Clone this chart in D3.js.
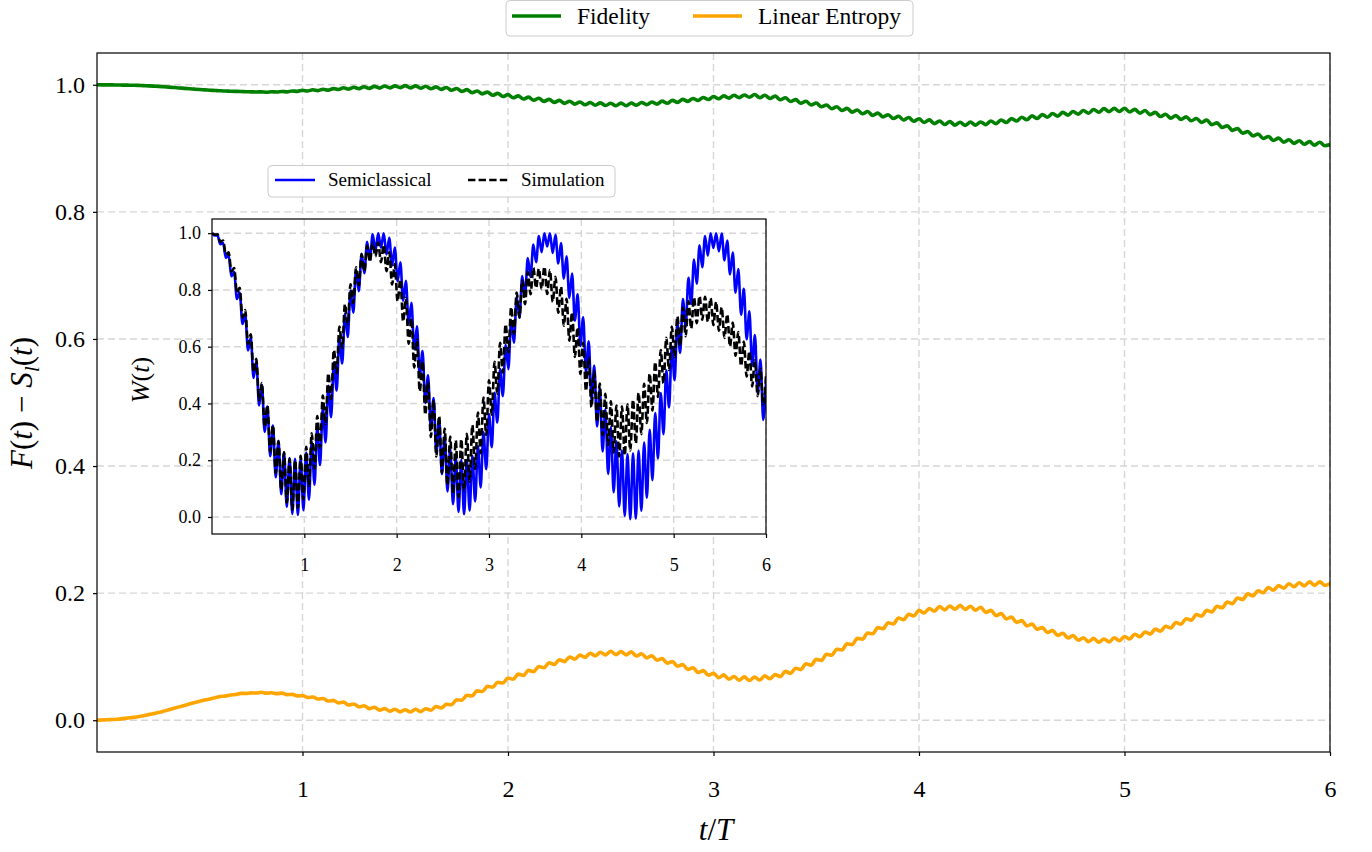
<!DOCTYPE html>
<html>
<head>
<meta charset="utf-8">
<script src="https://cdn.jsdelivr.net/npm/d3@7"></script>
<style>
  body { margin: 0; background: #fff; }
  text { font-family: "Liberation Serif", "DejaVu Serif", serif; fill: #000; }
</style>
</head>
<body>
<svg id="chart" width="1372" height="852"></svg>
<script>
// time step of the sampled curves (t/T units)
const STEP_MAIN = 0.025;
const STEP_INSET = 0.03;

// F(t), main panel, one value every STEP_MAIN
const fidelity = [
  1.0000, 0.9999, 0.9999, 0.9998, 0.9997, 0.9995, 0.9994, 0.9992, 0.9990, 0.9986, 0.9983, 0.9979,
  0.9975, 0.9969, 0.9963, 0.9956, 0.9950, 0.9944, 0.9938, 0.9931, 0.9925, 0.9920, 0.9915, 0.9910,
  0.9905, 0.9902, 0.9899, 0.9896, 0.9893, 0.9891, 0.9889, 0.9887, 0.9888, 0.9883, 0.9891, 0.9886,
  0.9895, 0.9889, 0.9903, 0.9896, 0.9913, 0.9901, 0.9921, 0.9908, 0.9930, 0.9915, 0.9940, 0.9925,
  0.9952, 0.9932, 0.9960, 0.9939, 0.9970, 0.9943, 0.9975, 0.9948, 0.9980, 0.9951, 0.9983, 0.9954,
  0.9987, 0.9951, 0.9982, 0.9946, 0.9977, 0.9938, 0.9967, 0.9928, 0.9958, 0.9913, 0.9941, 0.9896,
  0.9923, 0.9877, 0.9903, 0.9857, 0.9885, 0.9835, 0.9865, 0.9815, 0.9845, 0.9795, 0.9825, 0.9775,
  0.9805, 0.9756, 0.9788, 0.9739, 0.9770, 0.9723, 0.9755, 0.9708, 0.9740, 0.9695, 0.9730, 0.9685,
  0.9720, 0.9678, 0.9715, 0.9673, 0.9710, 0.9670, 0.9711, 0.9671, 0.9712, 0.9677, 0.9721, 0.9686,
  0.9730, 0.9696, 0.9743, 0.9709, 0.9755, 0.9723, 0.9770, 0.9738, 0.9785, 0.9753, 0.9800, 0.9768,
  0.9815, 0.9780, 0.9825, 0.9790, 0.9835, 0.9798, 0.9840, 0.9803, 0.9847, 0.9797, 0.9835, 0.9784,
  0.9822, 0.9764, 0.9795, 0.9737, 0.9767, 0.9709, 0.9740, 0.9682, 0.9712, 0.9653, 0.9682, 0.9623,
  0.9654, 0.9594, 0.9629, 0.9569, 0.9604, 0.9544, 0.9579, 0.9519, 0.9554, 0.9494, 0.9529, 0.9469,
  0.9504, 0.9446, 0.9484, 0.9426, 0.9465, 0.9406, 0.9448, 0.9389, 0.9430, 0.9375, 0.9420, 0.9365,
  0.9410, 0.9361, 0.9413, 0.9364, 0.9415, 0.9373, 0.9430, 0.9388, 0.9445, 0.9406, 0.9468, 0.9429,
  0.9490, 0.9450, 0.9510, 0.9470, 0.9530, 0.9489, 0.9548, 0.9506, 0.9565, 0.9523, 0.9580, 0.9538,
  0.9595, 0.9553, 0.9610, 0.9568, 0.9625, 0.9576, 0.9628, 0.9579, 0.9630, 0.9571, 0.9613, 0.9554,
  0.9595, 0.9530, 0.9565, 0.9500, 0.9535, 0.9475, 0.9515, 0.9455, 0.9495, 0.9433, 0.9470, 0.9408,
  0.9445, 0.9373, 0.9400, 0.9328, 0.9355, 0.9283, 0.9310, 0.9238, 0.9265, 0.9195, 0.9225, 0.9155,
  0.9185, 0.9123, 0.9160, 0.9098, 0.9135, 0.9078, 0.9120, 0.9063, 0.9105, 0.9050, 0.9095, 0.9040,
  0.9060
];

// S_l(t), main panel, one value every STEP_MAIN
const linearEntropy = [
  0.0000, 0.0004, 0.0008, 0.0011, 0.0015, 0.0025, 0.0035, 0.0045, 0.0055, 0.0071, 0.0088, 0.0104,
  0.0120, 0.0143, 0.0165, 0.0188, 0.0210, 0.0233, 0.0255, 0.0278, 0.0300, 0.0318, 0.0335, 0.0353,
  0.0373, 0.0380, 0.0398, 0.0405, 0.0423, 0.0421, 0.0431, 0.0428, 0.0440, 0.0426, 0.0433, 0.0419,
  0.0427, 0.0403, 0.0407, 0.0383, 0.0390, 0.0358, 0.0365, 0.0333, 0.0342, 0.0303, 0.0312, 0.0273,
  0.0285, 0.0240, 0.0255, 0.0210, 0.0227, 0.0182, 0.0205, 0.0159, 0.0183, 0.0142, 0.0173, 0.0132,
  0.0165, 0.0129, 0.0173, 0.0136, 0.0180, 0.0158, 0.0215, 0.0193, 0.0250, 0.0245, 0.0320, 0.0315,
  0.0392, 0.0383, 0.0462, 0.0453, 0.0532, 0.0521, 0.0597, 0.0586, 0.0665, 0.0645, 0.0725, 0.0705,
  0.0785, 0.0765, 0.0845, 0.0825, 0.0905, 0.0878, 0.0950, 0.0923, 0.0995, 0.0960, 0.1025, 0.0990,
  0.1055, 0.1013, 0.1070, 0.1028, 0.1085, 0.1033, 0.1080, 0.1028, 0.1075, 0.1010, 0.1045, 0.0980,
  0.1015, 0.0943, 0.0970, 0.0898, 0.0925, 0.0850, 0.0875, 0.0800, 0.0825, 0.0753, 0.0780, 0.0708,
  0.0738, 0.0670, 0.0713, 0.0645, 0.0688, 0.0630, 0.0683, 0.0625, 0.0678, 0.0632, 0.0698, 0.0652,
  0.0718, 0.0687, 0.0768, 0.0737, 0.0818, 0.0797, 0.0888, 0.0867, 0.0958, 0.0942, 0.1038, 0.1022,
  0.1118, 0.1105, 0.1203, 0.1190, 0.1288, 0.1275, 0.1373, 0.1360, 0.1458, 0.1440, 0.1533, 0.1515,
  0.1608, 0.1582, 0.1668, 0.1642, 0.1728, 0.1687, 0.1758, 0.1717, 0.1788, 0.1737, 0.1798, 0.1747,
  0.1808, 0.1745, 0.1793, 0.1730, 0.1778, 0.1697, 0.1728, 0.1647, 0.1678, 0.1595, 0.1623, 0.1540,
  0.1568, 0.1485, 0.1513, 0.1430, 0.1458, 0.1380, 0.1413, 0.1335, 0.1368, 0.1295, 0.1333, 0.1260,
  0.1298, 0.1237, 0.1288, 0.1227, 0.1278, 0.1232, 0.1298, 0.1252, 0.1318, 0.1280, 0.1353, 0.1315,
  0.1388, 0.1355, 0.1433, 0.1400, 0.1478, 0.1452, 0.1538, 0.1512, 0.1598, 0.1575, 0.1663, 0.1640,
  0.1728, 0.1705, 0.1793, 0.1770, 0.1858, 0.1835, 0.1923, 0.1900, 0.1988, 0.1957, 0.2038, 0.2007,
  0.2088, 0.2047, 0.2118, 0.2077, 0.2148, 0.2100, 0.2163, 0.2115, 0.2178, 0.2122, 0.2178, 0.2122,
  0.2150
];

// W(t), inset, semiclassical, one value every STEP_INSET
const semiclassical = [
  1.000, 0.992, 0.992, 0.961, 0.966, 0.913, 0.922, 0.848, 0.863, 0.768,
  0.791, 0.680, 0.714, 0.587, 0.632, 0.490, 0.548, 0.393, 0.466, 0.300,
  0.389, 0.214, 0.322, 0.140, 0.268, 0.080, 0.229, 0.036, 0.208, 0.011,
  0.205, 0.007, 0.208, 0.024, 0.227, 0.061, 0.265, 0.114, 0.318, 0.183,
  0.385, 0.263, 0.462, 0.352, 0.545, 0.446, 0.632, 0.541, 0.717, 0.634,
  0.797, 0.720, 0.868, 0.796, 0.927, 0.859, 0.970, 0.907, 0.996, 0.938,
  1.000, 0.949, 1.000, 0.925, 0.984, 0.886, 0.949, 0.831, 0.897, 0.762,
  0.832, 0.681, 0.755, 0.591, 0.672, 0.497, 0.585, 0.402, 0.499, 0.310,
  0.419, 0.225, 0.346, 0.151, 0.286, 0.090, 0.240, 0.045, 0.211, 0.018,
  0.201, 0.010, 0.201, 0.023, 0.216, 0.055, 0.250, 0.104, 0.299, 0.168,
  0.363, 0.246, 0.438, 0.333, 0.521, 0.426, 0.607, 0.521, 0.693, 0.614,
  0.775, 0.702, 0.849, 0.780, 0.912, 0.846, 0.960, 0.898, 0.990, 0.933,
  1.000, 0.953, 1.000, 0.930, 0.994, 0.893, 0.965, 0.840, 0.919, 0.772,
  0.858, 0.692, 0.785, 0.603, 0.704, 0.509, 0.619, 0.413, 0.534, 0.319,
  0.453, 0.231, 0.379, 0.152, 0.316, 0.087, 0.267, 0.037, 0.235, 0.004,
  0.222, -0.008, 0.224, -0.006, 0.234, 0.022, 0.262, 0.068, 0.307, 0.130,
  0.366, 0.206, 0.437, 0.292, 0.517, 0.386, 0.601, 0.482, 0.686, 0.578,
  0.768, 0.669, 0.843, 0.751, 0.907, 0.822, 0.957, 0.880, 0.990, 0.921,
  1.000, 0.948, 1.000, 0.936, 0.999, 0.904, 0.974, 0.855, 0.932, 0.790,
  0.874, 0.713, 0.804, 0.626, 0.725, 0.533, 0.641, 0.437, 0.555, 0.342,
  0.472
];

// W(t), inset, simulation, one value every STEP_INSET
const simulation = [
  1.000, 0.995, 0.996, 0.969, 0.974, 0.925, 0.933, 0.865, 0.877, 0.790,
  0.808, 0.703, 0.729, 0.609, 0.644, 0.510, 0.557, 0.412, 0.472, 0.317,
  0.393, 0.230, 0.323, 0.155, 0.267, 0.095, 0.227, 0.051, 0.204, 0.025,
  0.200, 0.032, 0.216, 0.062, 0.247, 0.109, 0.295, 0.171, 0.356, 0.244,
  0.428, 0.327, 0.506, 0.416, 0.589, 0.507, 0.671, 0.595, 0.750, 0.679,
  0.820, 0.754, 0.880, 0.817, 0.926, 0.866, 0.955, 0.899, 0.966, 0.918,
  0.967, 0.898, 0.959, 0.866, 0.933, 0.819, 0.891, 0.760, 0.837, 0.689,
  0.772, 0.611, 0.700, 0.527, 0.625, 0.443, 0.549, 0.360, 0.477, 0.282,
  0.412, 0.213, 0.356, 0.155, 0.312, 0.111, 0.283, 0.082, 0.270, 0.070,
  0.274, 0.092, 0.293, 0.124, 0.324, 0.169, 0.368, 0.225, 0.421, 0.289,
  0.482, 0.360, 0.547, 0.434, 0.614, 0.509, 0.679, 0.580, 0.739, 0.646,
  0.791, 0.703, 0.833, 0.750, 0.863, 0.785, 0.878, 0.807, 0.875, 0.803,
  0.882, 0.786, 0.870, 0.758, 0.846, 0.720, 0.812, 0.674, 0.769, 0.621,
  0.721, 0.564, 0.668, 0.504, 0.614, 0.444, 0.562, 0.387, 0.513, 0.335,
  0.470, 0.289, 0.434, 0.253, 0.408, 0.227, 0.393, 0.213, 0.390, 0.217,
  0.397, 0.234, 0.413, 0.259, 0.437, 0.292, 0.469, 0.331, 0.505, 0.375,
  0.546, 0.423, 0.588, 0.471, 0.631, 0.518, 0.671, 0.563, 0.707, 0.603,
  0.737, 0.637, 0.760, 0.664, 0.774, 0.683, 0.778, 0.695, 0.776, 0.688,
  0.771, 0.676, 0.758, 0.656, 0.739, 0.631, 0.714, 0.601, 0.685, 0.568,
  0.652, 0.532, 0.618, 0.495, 0.584, 0.460, 0.552, 0.426, 0.522, 0.397,
  0.497
];

const xTicks = [1, 2, 3, 4, 5, 6];
const yTicks = [0, 0.2, 0.4, 0.6, 0.8, 1.0];
const mainLegend = [
  { label: 'Fidelity', color: 'green' },
  { label: 'Linear Entropy', color: 'orange' }
];
const insetLegend = [
  { label: 'Semiclassical', color: 'blue', dash: null },
  { label: 'Simulation', color: 'black', dash: '7.4,3.2' }
];

const svg = d3.select('#chart');
const GRID = '#d6d6d6';

// ---- main panel ----
const M = { left: 97, right: 1330, top: 53, bottom: 752 };
const x = d3.scaleLinear().domain([0, 6]).range([M.left, M.right]);
const y = d3.scaleLinear().domain([-0.05, 1.05]).range([M.bottom, M.top]);

svg.append('clipPath').attr('id', 'clipMain')
  .append('rect').attr('x', M.left).attr('y', M.top)
  .attr('width', M.right - M.left).attr('height', M.bottom - M.top);

const grid = svg.append('g');
grid.selectAll('line.vx').data(xTicks).join('line')
  .attr('x1', d => x(d)).attr('x2', d => x(d)).attr('y1', M.top).attr('y2', M.bottom);
grid.selectAll('line.hy').data(yTicks).join('line')
  .attr('x1', M.left).attr('x2', M.right).attr('y1', d => y(d)).attr('y2', d => y(d));
grid.selectAll('line').attr('stroke', GRID).attr('stroke-width', 1.4).attr('stroke-dasharray', '7,4');

const lineMain = d3.line()
  .x((d, i) => x(i * STEP_MAIN))
  .y(d => y(d))
  .curve(d3.curveMonotoneX);

const curves = svg.append('g').attr('clip-path', 'url(#clipMain)');
curves.append('path').datum(linearEntropy).attr('d', lineMain)
  .attr('fill', 'none').attr('stroke', 'orange').attr('stroke-width', 3.6);
curves.append('path').datum(fidelity).attr('d', lineMain)
  .attr('fill', 'none').attr('stroke', 'green').attr('stroke-width', 3.6);

const xAxis = svg.append('g').attr('transform', `translate(0,${M.bottom})`)
  .call(d3.axisBottom(x).tickValues(xTicks).tickFormat(d3.format('d')).tickSize(4).tickPadding(24));
const yAxis = svg.append('g').attr('transform', `translate(${M.left},0)`)
  .call(d3.axisLeft(y).tickValues(yTicks).tickFormat(d3.format('.1f')).tickSize(4).tickPadding(8));
[xAxis, yAxis].forEach(g => {
  g.select('.domain').remove();
  g.selectAll('line').attr('stroke', '#000').attr('stroke-width', 1.2);
  g.selectAll('text').style('font-size', '24px').attr('fill', '#000');
});

svg.append('rect').attr('x', M.left).attr('y', M.top)
  .attr('width', M.right - M.left).attr('height', M.bottom - M.top)
  .attr('fill', 'none').attr('stroke', '#000').attr('stroke-width', 1.2);

// axis titles
svg.append('text').attr('x', 716).attr('y', 840)
  .attr('text-anchor', 'middle').style('font-size', '31px')
  .html('<tspan font-style="italic">t</tspan>/<tspan font-style="italic">T</tspan>');
svg.append('text').attr('transform', 'translate(32,403) rotate(-90)')
  .attr('text-anchor', 'middle').style('font-size', '31px')
  .html('<tspan font-style="italic">F</tspan>(<tspan font-style="italic">t</tspan>)\u2005−\u2005' +
        '<tspan font-style="italic">S</tspan><tspan font-style="italic" font-size="22px" dy="7">l</tspan>' +
        '<tspan dy="-7">(</tspan><tspan font-style="italic">t</tspan>)');

// main legend
const lg = svg.append('g');
lg.append('rect').attr('x', 506).attr('y', 0.5).attr('width', 407).attr('height', 35.5)
  .attr('rx', 4).attr('fill', '#fff').attr('fill-opacity', 0.8)
  .attr('stroke', '#cccccc').attr('stroke-width', 1);
const lgX = [512, 693];
mainLegend.forEach((d, i) => {
  lg.append('line').attr('x1', lgX[i]).attr('x2', lgX[i] + 49).attr('y1', 16).attr('y2', 16)
    .attr('stroke', d.color).attr('stroke-width', 3.6);
  lg.append('text').attr('x', lgX[i] + 65).attr('y', 24).style('font-size', '23.5px').text(d.label);
});

// ---- inset ----
const I = { left: 212, right: 766, top: 219, bottom: 534 };
const xi = d3.scaleLinear().domain([0, 6]).range([I.left, I.right]);
const yi = d3.scaleLinear().domain([-0.06, 1.05]).range([I.bottom, I.top]);

svg.append('rect').attr('x', I.left).attr('y', I.top)
  .attr('width', I.right - I.left).attr('height', I.bottom - I.top).attr('fill', '#fff');

svg.append('clipPath').attr('id', 'clipInset')
  .append('rect').attr('x', I.left).attr('y', I.top)
  .attr('width', I.right - I.left).attr('height', I.bottom - I.top);

const gridI = svg.append('g');
gridI.selectAll('line.vx').data(xTicks).join('line')
  .attr('x1', d => xi(d)).attr('x2', d => xi(d)).attr('y1', I.top).attr('y2', I.bottom);
gridI.selectAll('line.hy').data(yTicks).join('line')
  .attr('x1', I.left).attr('x2', I.right).attr('y1', d => yi(d)).attr('y2', d => yi(d));
gridI.selectAll('line').attr('stroke', GRID).attr('stroke-width', 1.4).attr('stroke-dasharray', '7,4');

const lineInset = d3.line()
  .x((d, i) => xi(i * STEP_INSET))
  .y(d => yi(d))
  .curve(d3.curveMonotoneX);

const curvesI = svg.append('g').attr('clip-path', 'url(#clipInset)');
curvesI.append('path').datum(semiclassical).attr('d', lineInset)
  .attr('fill', 'none').attr('stroke', 'blue').attr('stroke-width', 2.6);
curvesI.append('path').datum(simulation).attr('d', lineInset)
  .attr('fill', 'none').attr('stroke', 'black').attr('stroke-width', 2.6)
  .attr('stroke-dasharray', '7.4,3.2');

const xAxisI = svg.append('g').attr('transform', `translate(0,${I.bottom})`)
  .call(d3.axisBottom(xi).tickValues(xTicks).tickFormat(d3.format('d')).tickSize(4).tickPadding(20));
const yAxisI = svg.append('g').attr('transform', `translate(${I.left},0)`)
  .call(d3.axisLeft(yi).tickValues(yTicks).tickFormat(d3.format('.1f')).tickSize(4).tickPadding(7));
[xAxisI, yAxisI].forEach(g => {
  g.select('.domain').remove();
  g.selectAll('line').attr('stroke', '#000').attr('stroke-width', 1.2);
  g.selectAll('text').style('font-size', '18px').attr('fill', '#000');
});

svg.append('rect').attr('x', I.left).attr('y', I.top)
  .attr('width', I.right - I.left).attr('height', I.bottom - I.top)
  .attr('fill', 'none').attr('stroke', '#000').attr('stroke-width', 1.2);

svg.append('text').attr('transform', 'translate(149,380) rotate(-90)')
  .attr('text-anchor', 'middle').style('font-size', '26px')
  .html('<tspan font-style="italic">W</tspan>(<tspan font-style="italic">t</tspan>)');

// inset legend
const li = svg.append('g');
li.append('rect').attr('x', 268).attr('y', 165.5).attr('width', 347).attr('height', 31.5)
  .attr('rx', 4).attr('fill', '#fff').attr('fill-opacity', 0.8)
  .attr('stroke', '#cccccc').attr('stroke-width', 1);
const liX = [275, 468];
insetLegend.forEach((d, i) => {
  li.append('line').attr('x1', liX[i]).attr('x2', liX[i] + 40).attr('y1', 180).attr('y2', 180)
    .attr('stroke', d.color).attr('stroke-width', 2.4)
    .attr('stroke-dasharray', d.dash);
  li.append('text').attr('x', liX[i] + 53).attr('y', 186).style('font-size', '19px').text(d.label);
});
</script>
</body>
</html>
